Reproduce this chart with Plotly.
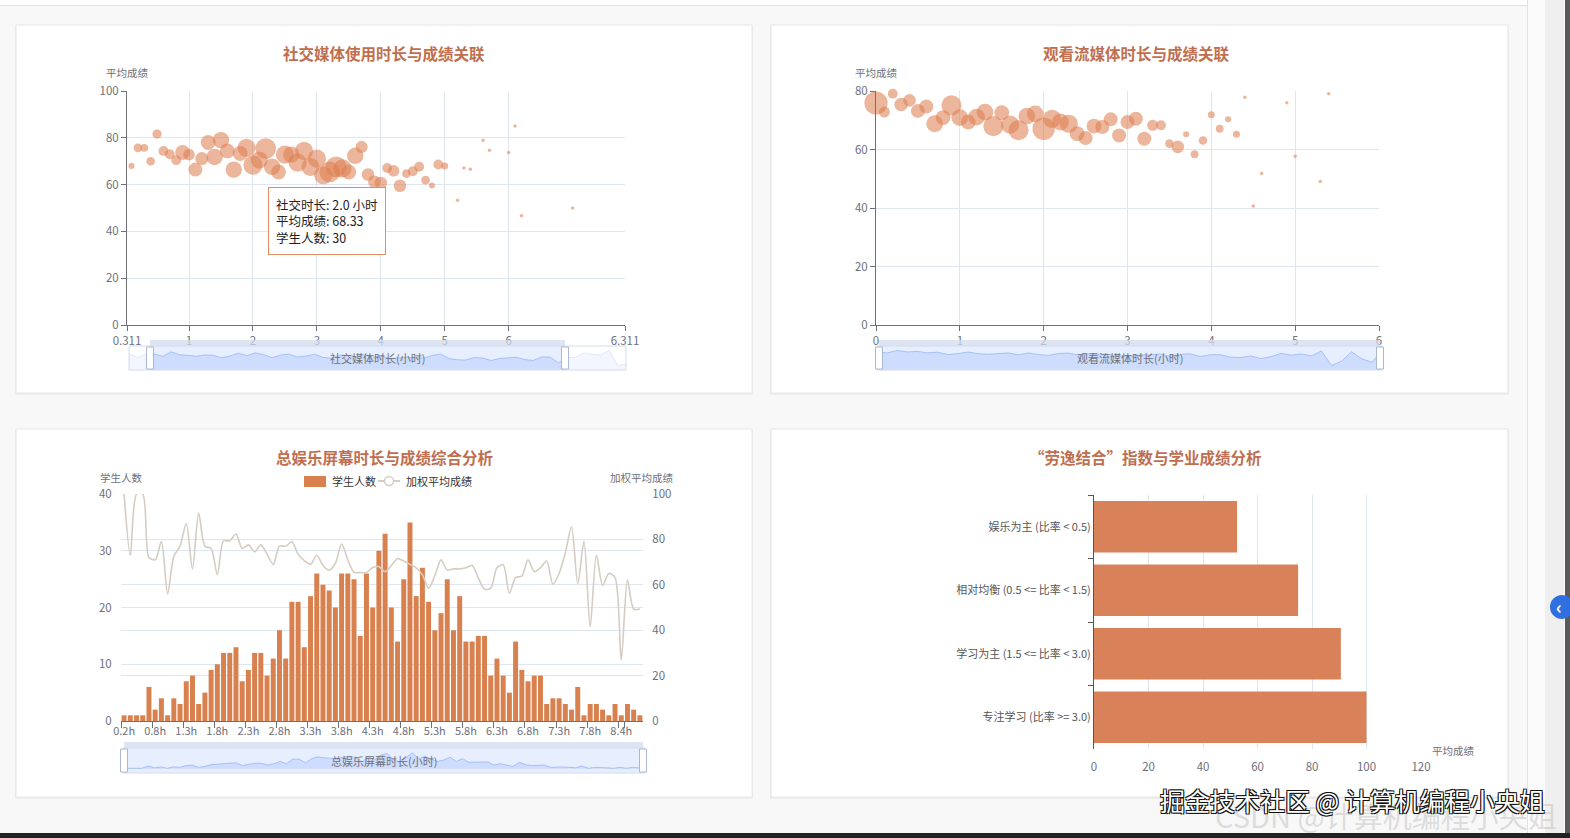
import math
import plotly.graph_objects as go

W, H = 1570, 838
def X(px): return px / W
def Y(py): return 1 - py / H

FONT = "Noto Sans CJK SC, Microsoft YaHei, sans-serif"
AXC = "#6e7079"
GRID = "#e0e6f1"
TITLE_C = "#bf6f4f"
DOT = "rgba(222,124,78,0.8)"
BAR_C = "#d9804f"
HBAR_C = "#d9825a"
LINE_C = "#d5cdc2"
NOTICK = "rgba(0,0,0,0)"

# ---------------- data ----------------
# chart 1: social media hours vs avg score
social_hours = [0.0, 0.1, 0.2, 0.3, 0.4, 0.5, 0.6, 0.7, 0.8, 0.9,
                1.0, 1.1, 1.2, 1.3, 1.4, 1.5, 1.6, 1.7, 1.8, 1.9,
                2.0, 2.1, 2.2, 2.3, 2.4, 2.5, 2.6, 2.7, 2.8, 2.9,
                3.0, 3.1, 3.2, 3.3, 3.4, 3.5, 3.6, 3.7, 3.8, 3.9,
                4.0, 4.1, 4.2, 4.3, 4.4, 4.5, 4.6, 4.7, 4.8, 4.9,
                5.0, 5.2, 5.3, 5.4, 5.6, 5.7, 6.0, 6.1, 6.2, 7.0]
social_score = [76.1, 68.0, 75.7, 75.7, 70.0, 81.6, 74.4, 73.0, 70.4, 73.7,
                72.8, 66.4, 71.1, 78.0, 71.8, 79.0, 74.4, 66.4, 73.3, 75.7,
                68.33, 70.5, 75.4, 67.6, 65.4, 72.8, 72.8, 69.4, 74.4, 67.6,
                71.1, 64.0, 65.4, 67.6, 66.9, 65.4, 72.3, 76.1, 64.3, 61.2,
                60.7, 67.1, 65.9, 59.5, 64.7, 65.7, 67.6, 61.9, 59.6, 68.6,
                67.9, 53.3, 67.1, 66.6, 79.0, 74.7, 73.7, 85.0, 46.7, 50.0]
social_count = [18, 3, 6, 5, 6, 7, 8, 8, 8, 18,
                11, 16, 14, 18, 22, 22, 18, 22, 18, 27,
                30, 24, 35, 22, 18, 27, 22, 27, 27, 27,
                27, 27, 35, 35, 27, 18, 22, 12, 13, 13,
                13, 8, 11, 13, 6, 8, 8, 6, 3, 8,
                4, 1, 1, 1, 1, 1, 1, 1, 1, 1]

# chart 2: streaming hours vs avg score
stream_hours = [0.0, 0.1, 0.2, 0.3, 0.4, 0.5, 0.6, 0.7, 0.8, 0.9,
                1.0, 1.1, 1.2, 1.3, 1.4, 1.5, 1.6, 1.7, 1.8, 1.9,
                2.0, 2.1, 2.2, 2.3, 2.4, 2.5, 2.6, 2.7, 2.8, 2.9,
                3.0, 3.1, 3.2, 3.3, 3.4, 3.5, 3.6, 3.7, 3.8, 3.9,
                4.0, 4.1, 4.2, 4.3, 4.4, 4.5, 4.6, 4.9, 5.0, 5.3, 5.4]
stream_score = [75.9, 72.8, 79.1, 75.4, 76.8, 73.2, 74.7, 68.8, 70.9, 75.1,
                70.9, 69.4, 71.1, 72.8, 68.0, 72.6, 68.5, 66.6, 71.4, 72.2,
                67.1, 70.5, 69.4, 68.8, 65.4, 63.9, 68.0, 67.7, 70.3, 64.8,
                69.4, 70.5, 63.7, 68.3, 68.3, 62.0, 60.9, 65.2, 58.4, 63.1,
                71.9, 67.1, 70.3, 65.2, 77.9, 40.7, 51.8, 76.0, 57.7, 49.1, 79.1]
stream_count = [44, 10, 8, 15, 13, 16, 16, 23, 18, 33,
                23, 18, 23, 23, 33, 18, 27, 33, 23, 23,
                41, 27, 23, 27, 18, 16, 18, 16, 16, 16,
                16, 16, 16, 10, 8, 6, 13, 3, 5, 6,
                4, 5, 3, 4, 1, 1, 1, 1, 1, 1, 1]

# chart 3: total entertainment screen time distribution
screen_cats = ["0.2h", "0.3h", "0.4h", "0.5h", "0.7h",
               "0.8h", "0.9h", "1.0h", "1.1h", "1.2h",
               "1.3h", "1.4h", "1.5h", "1.6h", "1.7h",
               "1.8h", "1.9h", "2.0h", "2.1h", "2.2h",
               "2.3h", "2.4h", "2.5h", "2.6h", "2.7h",
               "2.8h", "2.9h", "3.0h", "3.1h", "3.2h",
               "3.3h", "3.4h", "3.5h", "3.6h", "3.7h",
               "3.8h", "3.9h", "4.0h", "4.1h", "4.2h",
               "4.3h", "4.4h", "4.5h", "4.6h", "4.7h",
               "4.8h", "4.9h", "5.0h", "5.1h", "5.2h",
               "5.3h", "5.4h", "5.5h", "5.6h", "5.7h",
               "5.8h", "5.9h", "6.0h", "6.1h", "6.2h",
               "6.3h", "6.4h", "6.5h", "6.6h", "6.7h",
               "6.8h", "6.9h", "7.0h", "7.1h", "7.2h",
               "7.3h", "7.4h", "7.5h", "7.6h", "7.7h",
               "7.8h", "7.9h", "8.0h", "8.1h", "8.3h",
               "8.4h", "8.5h", "8.6h", "8.7h"]
screen_count = [1, 1, 1, 1, 6, 2, 4, 1, 4, 3,
                7, 8, 3, 5, 9, 10, 12, 12, 13, 7,
                9, 12, 12, 8, 11, 16, 11, 21, 21, 13,
                22, 26, 24, 23, 20, 26, 26, 25, 15, 26,
                20, 30, 33, 20, 14, 25, 35, 22, 27, 21,
                16, 19, 25, 16, 22, 14, 14, 15, 15, 8,
                11, 8, 5, 14, 9, 7, 8, 8, 3, 4,
                4, 3, 2, 6, 1, 3, 3, 2, 1, 3,
                1, 3, 2, 1]
screen_avg = [100, 73, 100, 100, 72, 71, 79, 56, 72.5, 77,
              87, 67, 91.6, 77, 76, 64.5, 79.4, 79.4, 82.4, 76,
              77.6, 74.5, 77.6, 73.5, 69, 77, 77, 79, 73.5, 70.6,
              69, 73, 68.5, 66.5, 69.5, 78, 71, 65.5, 65.4, 65.4,
              67.6, 68, 65.8, 68.5, 71.5, 70.5, 69, 67.5, 64.4, 58.5,
              64, 71, 66.5, 67, 67, 67.5, 68.5, 63, 58, 58.5,
              67.5, 68.8, 56.3, 63.2, 63.8, 71, 65.8, 67.5, 70.5, 60.2,
              65, 74, 85.6, 60.4, 79.2, 41.5, 73.1, 59.8, 65, 63.2,
              26.9, 62.1, 49.3, 49.3]

# chart 4: study / leisure balance
balance_cats = ["娱乐为主 (比率 < 0.5)", "相对均衡 (0.5 <= 比率 < 1.5)",
                "学习为主 (1.5 <= 比率 < 3.0)", "专注学习 (比率 >= 3.0)"]
balance_score = [52.5, 74.9, 90.6, 100.0]

# ---------------- figure ----------------
fig = go.Figure()
shapes = []
annos = []

def rect(x0, y0, x1, y1, fill=None, line=None, lw=1, layer="below", opacity=1.0):
    shapes.append(dict(type="rect", xref="paper", yref="paper",
                       x0=X(x0), x1=X(x1), y0=Y(y1), y1=Y(y0),
                       fillcolor=fill if fill else "rgba(0,0,0,0)",
                       line=dict(color=line if line else "rgba(0,0,0,0)", width=lw if line else 0),
                       layer=layer, opacity=opacity))

def text(x, y, s, size=11.5, color=AXC, xanchor="center", yanchor="middle", weight=None, **kw):
    f = dict(size=size, color=color, family=FONT)
    if weight:
        f["weight"] = weight
    if "shadow" in kw:
        f["shadow"] = kw.pop("shadow")
    annos.append(dict(xref="paper", yref="paper", x=X(x), y=Y(y), text=s, showarrow=False,
                      xanchor=xanchor, yanchor=yanchor, font=f, **kw))

# page chrome
rect(0, 0, 1527, 5, fill="#ffffff")
shapes.append(dict(type="line", xref="paper", yref="paper", x0=X(0), x1=X(1527), y0=Y(5.5), y1=Y(5.5),
                   line=dict(color="#e2e2e2", width=1), layer="below"))
shapes.append(dict(type="line", xref="paper", yref="paper", x0=X(1527.5), x1=X(1527.5), y0=Y(0), y1=Y(838),
                   line=dict(color="#e3e3e3", width=1), layer="below"))
rect(1528, 0, 1545, 838, fill="#fbfbfb")
rect(1545, 0, 1564, 838, fill="#efefef")
rect(1565, 0, 1570, 838, fill="#5a5a5a")
rect(0, 833, 1570, 838, fill="#222222")

# cards
for (cx0, cy0, cx1, cy1) in [(16, 25, 752, 393), (771, 25, 1508, 393),
                             (16, 429, 752, 797), (771, 429, 1508, 797)]:
    rect(cx0 - 1, cy0, cx1 + 1, cy1 + 2, fill="#eeeeee")
    rect(cx0, cy0, cx1, cy1, fill="#ffffff", line="#e6e6e6")

SZ = 3.5
# ---- chart 1
fig.add_trace(go.Scatter(x=social_hours, y=social_score, mode="markers",
                         marker=dict(size=[SZ * math.sqrt(c) for c in social_count], color=DOT, line=dict(width=0)),
                         cliponaxis=False, xaxis="x", yaxis="y", showlegend=False, hoverinfo="skip"))
# ---- chart 2
fig.add_trace(go.Scatter(x=stream_hours, y=stream_score, mode="markers",
                         marker=dict(size=[SZ * math.sqrt(c) for c in stream_count], color=DOT, line=dict(width=0)),
                         cliponaxis=False, xaxis="x2", yaxis="y2", showlegend=False, hoverinfo="skip"))
# ---- chart 3
fig.add_trace(go.Bar(x=screen_cats, y=screen_count, marker=dict(color=BAR_C, line=dict(width=0)), width=0.8,
                     xaxis="x3", yaxis="y3", showlegend=False, hoverinfo="skip"))
fig.add_trace(go.Scatter(x=screen_cats, y=screen_avg, mode="lines",
                         line=dict(shape="spline", smoothing=0.8, color=LINE_C, width=1.6),
                         xaxis="x3", yaxis="y4", showlegend=False, hoverinfo="skip"))
# ---- chart 4
fig.add_trace(go.Bar(y=balance_cats, x=balance_score, orientation="h", width=0.81,
                     marker=dict(color=HBAR_C, line=dict(width=0)),
                     xaxis="x5", yaxis="y5", showlegend=False, hoverinfo="skip"))

# ---- sliders (data zoom look-alike)
def slider(idx, x0, x1, y0, y1, values, s0, s1, label):
    n = len(values)
    fig.add_trace(go.Scatter(x=list(range(n)), y=values, mode="lines", fill="tozeroy",
                             line=dict(color="#8fb0f7", width=0.7), fillcolor="rgba(143,176,247,0.28)",
                             xaxis="x%d" % idx, yaxis="y%d" % idx, showlegend=False, hoverinfo="skip"))
    lo, hi = min(values), max(values)
    span = hi - lo
    ax = dict(visible=False, fixedrange=True, automargin=False)
    fig.layout["xaxis%d" % idx] = dict(domain=[X(x0), X(x1)], anchor="y%d" % idx, range=[0, n - 1], **ax)
    fig.layout["yaxis%d" % idx] = dict(domain=[Y(y1), Y(y0)], anchor="x%d" % idx,
                                       range=[lo - 0.3 * span, hi + 0.3 * span], **ax)
    if s0 > x0:
        rect(x0, y0, s0, y1, fill="rgba(255,255,255,0.6)", layer="above")
    if s1 < x1:
        rect(s1, y0, x1, y1, fill="rgba(255,255,255,0.6)", layer="above")
    rect(s0, y0, s1, y1, fill="rgba(135,175,255,0.2)", layer="above")
    rect(x0, y0, x1, y1, line="#d2dbee", layer="above")
    rect(s0, y0 - 6, s1, y0, fill="rgba(210,219,238,0.75)", layer="above")
    for s in (s0, s1):
        rect(s - 3.5, y0 + 1, s + 3.5, y1 - 1, fill="#ffffff", line="#acb8d1", layer="above")
    text((x0 + x1) / 2, (y0 + y1) / 2, label, size=11, color=AXC)

slider(6, 129, 626, 346, 370, social_score, 150, 565, "社交媒体时长(小时)")
slider(7, 877, 1382, 346, 370, stream_score, 879, 1380, "观看流媒体时长(小时)")
slider(8, 123, 645, 748, 773, screen_count, 124, 643, "总娱乐屏幕时长(小时)")

tf = dict(size=11.5, color=AXC, family=FONT)
base_ax = dict(showgrid=True, gridcolor=GRID, gridwidth=1, zeroline=False, tickfont=tf,
               fixedrange=True, automargin=False)

fig.update_layout(
    xaxis=dict(domain=[X(127), X(625)], anchor="y", range=[0.03, 7.82], tickmode="array",
               tickvals=[0.03, 1, 2, 3, 4, 5, 6, 7.82],
               ticktext=["0.311", "1", "2", "3", "4", "5", "6", "6.311"], tickangle=0,
               showline=True, linecolor=AXC, ticks="outside", ticklen=5, tickcolor=AXC, **base_ax),
    yaxis=dict(domain=[Y(325), Y(91)], anchor="x", range=[0, 100], dtick=20,
               showline=True, linecolor=AXC, ticks="outside", ticklen=5, tickcolor=AXC, **base_ax),
    xaxis2=dict(domain=[X(876), X(1379)], anchor="y2", range=[0, 6], dtick=1, tickangle=0,
                showline=True, linecolor=AXC, ticks="outside", ticklen=5, tickcolor=AXC, **base_ax),
    yaxis2=dict(domain=[Y(325), Y(91)], anchor="x2", range=[0, 80], dtick=20,
                showline=True, linecolor=AXC, ticks="outside", ticklen=5, tickcolor=AXC, **base_ax),
    xaxis3=dict(domain=[X(121), X(643)], anchor="y3", type="category", categoryorder="array",
                categoryarray=screen_cats, range=[-0.5, len(screen_cats) - 0.5],
                tickmode="array", tickvals=screen_cats[::5], ticktext=screen_cats[::5], tickangle=0,
                showline=True, linecolor=AXC, ticks="outside", ticklen=6, tickcolor=AXC,
                tickson="boundaries", showgrid=False, zeroline=False, automargin=False,
                tickfont=dict(size=11, color=AXC, family=FONT), fixedrange=True),
    yaxis3=dict(domain=[Y(721), Y(494)], anchor="x3", range=[0, 40], dtick=10, showline=False,
                ticks="outside", ticklen=6, tickcolor=NOTICK, **base_ax),
    yaxis4=dict(overlaying="y3", anchor="x3", side="right", range=[0, 100], dtick=20,
                showline=False, ticks="outside", ticklen=6, tickcolor=NOTICK, **base_ax),
    xaxis5=dict(domain=[X(1094), X(1421)], anchor="y5", range=[0, 120], dtick=20, tickangle=0,
                showline=False, ticks="outside", ticklen=7, tickcolor=NOTICK, **base_ax),
    yaxis5=dict(domain=[Y(749), Y(495)], anchor="x5", type="category", categoryorder="array",
                categoryarray=balance_cats, autorange="reversed",
                showline=True, linecolor="#555555", ticks="outside", ticklen=5, tickcolor="#555555",
                tickson="boundaries", showgrid=False, zeroline=False, automargin=False,
                tickfont=dict(size=11, color="#555555", family=FONT), fixedrange=True),
)

# titles
text(384, 53, "社交媒体使用时长与成绩关联", size=15.5, color=TITLE_C, weight=700)
text(1136, 53, "观看流媒体时长与成绩关联", size=15.5, color=TITLE_C, weight=700)
text(385, 457, "总娱乐屏幕时长与成绩综合分析", size=15.5, color=TITLE_C, weight=700)
text(1145, 457, "“劳逸结合”指数与学业成绩分析", size=15.5, color=TITLE_C, weight=700)

# axis names
text(127, 73, "平均成绩", size=10.5)
text(876, 73, "平均成绩", size=10.5)
text(121, 477, "学生人数", size=10.5)
text(642, 477, "加权平均成绩", size=10.5)
text(1453, 750, "平均成绩", size=10.5)

# legend of chart 3 (drawn manually)
shapes.append(dict(type="rect", xref="paper", yref="paper", x0=X(304), x1=X(326), y0=Y(487), y1=Y(476),
                   fillcolor=BAR_C, line=dict(width=0), layer="above"))
text(330, 481, "学生人数", size=11, color="#333333", xanchor="left")
shapes.append(dict(type="line", xref="paper", yref="paper", x0=X(378), x1=X(400), y0=Y(481), y1=Y(481),
                   line=dict(color=LINE_C, width=2), layer="above"))
shapes.append(dict(type="circle", xref="paper", yref="paper", x0=X(384.5), x1=X(393.5), y0=Y(485.5), y1=Y(476.5),
                   fillcolor="#ffffff", line=dict(color=LINE_C, width=1.5), layer="above"))
text(404, 481, "加权平均成绩", size=11, color="#333333", xanchor="left")

# tooltip on chart 1
annos.append(dict(xref="paper", yref="paper", x=X(268), y=Y(187), xanchor="left", yanchor="top",
                  text="社交时长: 2.0 小时<br>平均成绩: 68.33<br>学生人数: 30", showarrow=False, align="left",
                  bgcolor="#ffffff", bordercolor="#e38c62", borderwidth=1, borderpad=7,
                  font=dict(size=12.5, color="#222222", family=FONT)))

# side button
shapes.append(dict(type="circle", xref="paper", yref="paper", x0=X(1550), x1=X(1574), y0=Y(619), y1=Y(595),
                   fillcolor="#2f6fe0", line=dict(width=0), layer="above"))
text(1559, 606, "‹", size=18, color="#ffffff", weight=700)

# watermark
text(1386, 815, "CSDN @计算机编程小央姐", size=29, color="rgba(185,185,185,0.45)")
text(1352, 800, "掘金技术社区 @ 计算机编程小央姐", size=25, color="#ffffff",
     shadow="-1px -1px 0 #111, 1px -1px 0 #111, -1px 1px 0 #111, 1px 1px 0 #111")

fig.update_layout(
    width=W, height=H, margin=dict(l=0, r=0, t=0, b=0, pad=0, autoexpand=False),
    paper_bgcolor="#f8f8f8", plot_bgcolor="#ffffff",
    font=dict(family=FONT, color=AXC, size=11.5),
    showlegend=False, hovermode=False,
    shapes=shapes, annotations=annos,
)

fig.write_html("out.html", config={"displayModeBar": False},
               post_script="document.body.style.margin='0px';document.body.style.overflow='hidden';")
